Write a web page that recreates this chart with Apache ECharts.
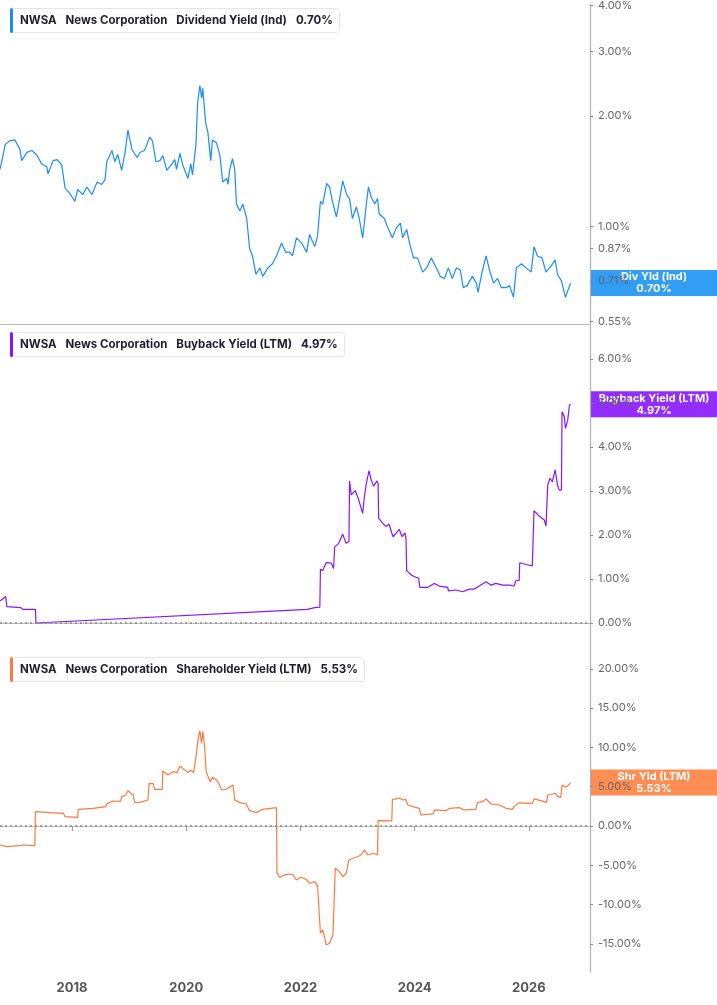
<!DOCTYPE html>
<html lang="en" style="height: 100%">
<head>
    <meta charset="utf-8"/>
    <meta name="viewport" content="width=device-width, initial-scale=1.0"/>
</head>
<body style="height: 100%; margin: 0; overflow: hidden; background: #fff">
<div id="container" style="height: 100%"></div>

<script type="text/javascript" src="https://cdn.jsdelivr.net/npm/echarts@6/dist/echarts.min.js"></script>

<script type="text/javascript">
    // dates as decimal years
    var divYears = [2016.74, 2016.77, 2016.83, 2016.91, 2017.00, 2017.09, 2017.12, 2017.21, 2017.30, 2017.39,
        2017.47, 2017.56, 2017.58, 2017.67, 2017.74, 2017.82, 2017.88, 2017.96, 2018.05, 2018.10,
        2018.19, 2018.26, 2018.35, 2018.44, 2018.52, 2018.58, 2018.61, 2018.70, 2018.75, 2018.80,
        2018.87, 2018.93, 2018.98, 2019.05, 2019.14, 2019.19, 2019.27, 2019.36, 2019.41, 2019.47,
        2019.54, 2019.59, 2019.66, 2019.75, 2019.80, 2019.83, 2019.89, 2019.94, 2020.03, 2020.08,
        2020.11, 2020.17, 2020.20, 2020.24, 2020.27, 2020.29, 2020.34, 2020.38, 2020.43, 2020.46,
        2020.53, 2020.59, 2020.64, 2020.71, 2020.73, 2020.76, 2020.81, 2020.85, 2020.88, 2020.94,
        2020.99, 2021.06, 2021.11, 2021.16, 2021.22, 2021.29, 2021.34, 2021.43, 2021.51, 2021.58,
        2021.67, 2021.74, 2021.81, 2021.86, 2021.93, 2022.02, 2022.11, 2022.16, 2022.25, 2022.30,
        2022.35, 2022.39, 2022.46, 2022.51, 2022.56, 2022.63, 2022.68, 2022.74, 2022.81, 2022.86,
        2022.91, 2022.98, 2023.03, 2023.09, 2023.16, 2023.19, 2023.24, 2023.30, 2023.35, 2023.38,
        2023.47, 2023.52, 2023.61, 2023.68, 2023.75, 2023.79, 2023.86, 2023.91, 2023.98, 2024.05,
        2024.14, 2024.21, 2024.29, 2024.38, 2024.45, 2024.52, 2024.59, 2024.66, 2024.73, 2024.80,
        2024.85, 2024.92, 2025.01, 2025.08, 2025.11, 2025.18, 2025.25, 2025.31, 2025.38, 2025.45,
        2025.52, 2025.60, 2025.66, 2025.73, 2025.78, 2025.87, 2025.95, 2026.04, 2026.09, 2026.15,
        2026.23, 2026.30, 2026.39, 2026.46, 2026.50, 2026.57, 2026.64, 2026.67, 2026.73];
    var divYield = [1.43, 1.50, 1.67, 1.71, 1.72, 1.62, 1.51, 1.59, 1.61, 1.56,
        1.48, 1.45, 1.39, 1.51, 1.52, 1.47, 1.27, 1.23, 1.17, 1.26,
        1.22, 1.28, 1.22, 1.32, 1.30, 1.34, 1.50, 1.61, 1.50, 1.57,
        1.42, 1.59, 1.83, 1.62, 1.54, 1.59, 1.61, 1.75, 1.71, 1.50,
        1.51, 1.56, 1.42, 1.48, 1.52, 1.43, 1.58, 1.47, 1.35, 1.48,
        1.38, 1.67, 2.17, 2.42, 2.24, 2.38, 1.92, 1.80, 1.51, 1.72,
        1.69, 1.56, 1.32, 1.35, 1.30, 1.42, 1.53, 1.43, 1.15, 1.10,
        1.15, 1.05, 0.87, 0.83, 0.74, 0.77, 0.73, 0.77, 0.79, 0.83,
        0.90, 0.85, 0.85, 0.83, 0.93, 0.90, 0.85, 0.95, 0.88, 0.94,
        1.17, 1.15, 1.31, 1.28, 1.17, 1.06, 1.17, 1.33, 1.22, 1.19,
        1.05, 1.13, 1.05, 0.93, 1.17, 1.28, 1.20, 1.15, 1.19, 1.08,
        1.05, 1.00, 0.93, 0.99, 1.02, 0.93, 0.98, 0.90, 0.82, 0.82,
        0.75, 0.77, 0.82, 0.77, 0.73, 0.72, 0.77, 0.72, 0.77, 0.76,
        0.68, 0.69, 0.73, 0.70, 0.66, 0.75, 0.83, 0.76, 0.70, 0.72,
        0.68, 0.68, 0.69, 0.64, 0.77, 0.79, 0.77, 0.75, 0.88, 0.83,
        0.82, 0.75, 0.78, 0.81, 0.74, 0.71, 0.64, 0.66, 0.70];

    var bbYears = [2016.74, 2016.84, 2016.86, 2017.10, 2017.14, 2017.36, 2017.37, 2022.12, 2022.25, 2022.34,
        2022.35, 2022.39, 2022.45, 2022.54, 2022.58, 2022.60, 2022.67, 2022.74, 2022.80, 2022.85,
        2022.86, 2022.89, 2022.96, 2023.02, 2023.09, 2023.12, 2023.15, 2023.20, 2023.24, 2023.28,
        2023.34, 2023.36, 2023.37, 2023.44, 2023.50, 2023.55, 2023.62, 2023.68, 2023.73, 2023.78,
        2023.83, 2023.85, 2023.86, 2023.94, 2024.02, 2024.07, 2024.09, 2024.23, 2024.34, 2024.43,
        2024.58, 2024.59, 2024.72, 2024.84, 2024.96, 2025.04, 2025.13, 2025.25, 2025.34, 2025.42,
        2025.54, 2025.66, 2025.74, 2025.77, 2025.83, 2025.84, 2025.95, 2026.06, 2026.09, 2026.18,
        2026.27, 2026.30, 2026.33, 2026.37, 2026.41, 2026.46, 2026.50, 2026.53, 2026.57, 2026.58,
        2026.62, 2026.64, 2026.68, 2026.71, 2026.73];
    var bbYield = [0.50, 0.60, 0.37, 0.35, 0.31, 0.31, 0.00, 0.31, 0.35, 0.36,
        1.22, 1.19, 1.37, 1.36, 1.24, 1.73, 1.81, 2.02, 1.81, 1.85,
        3.23, 2.91, 3.01, 2.80, 2.49, 2.87, 3.14, 3.46, 3.25, 3.11,
        3.23, 3.17, 2.38, 2.27, 2.19, 2.25, 1.96, 2.05, 2.13, 1.96,
        2.05, 1.90, 1.19, 1.09, 1.04, 1.02, 0.81, 0.81, 0.90, 0.84,
        0.81, 0.73, 0.75, 0.71, 0.77, 0.77, 0.84, 0.94, 0.86, 0.90,
        0.86, 0.86, 0.84, 0.96, 0.97, 1.37, 1.33, 1.30, 2.55, 2.43,
        2.34, 2.20, 3.14, 3.29, 3.21, 3.48, 3.14, 3.02, 3.02, 4.80,
        4.69, 4.42, 4.61, 4.95, 4.97];

    var shYears = [2016.74, 2016.86, 2017.09, 2017.15, 2017.35, 2017.36, 2017.61, 2017.85, 2017.88, 2018.10,
        2018.11, 2018.37, 2018.59, 2018.62, 2018.72, 2018.85, 2018.87, 2018.94, 2018.98, 2019.07,
        2019.10, 2019.19, 2019.33, 2019.35, 2019.42, 2019.45, 2019.58, 2019.59, 2019.68, 2019.77,
        2019.84, 2019.89, 2019.94, 2020.03, 2020.08, 2020.13, 2020.18, 2020.21, 2020.24, 2020.27,
        2020.29, 2020.32, 2020.35, 2020.42, 2020.46, 2020.53, 2020.57, 2020.62, 2020.70, 2020.82,
        2020.85, 2020.94, 2021.05, 2021.11, 2021.23, 2021.34, 2021.58, 2021.59, 2021.64, 2021.72,
        2021.81, 2021.87, 2021.93, 2022.01, 2022.10, 2022.16, 2022.25, 2022.30, 2022.33, 2022.35,
        2022.39, 2022.42, 2022.45, 2022.51, 2022.54, 2022.57, 2022.60, 2022.61, 2022.68, 2022.74,
        2022.80, 2022.85, 2022.92, 2023.00, 2023.06, 2023.12, 2023.18, 2023.27, 2023.35, 2023.36,
        2023.60, 2023.61, 2023.68, 2023.73, 2023.79, 2023.84, 2023.88, 2023.97, 2024.08, 2024.11,
        2024.32, 2024.35, 2024.55, 2024.61, 2024.78, 2024.87, 2025.07, 2025.10, 2025.19, 2025.25,
        2025.34, 2025.48, 2025.60, 2025.71, 2025.74, 2025.83, 2025.95, 2026.06, 2026.09, 2026.21,
        2026.31, 2026.33, 2026.41, 2026.47, 2026.50, 2026.56, 2026.58, 2026.64, 2026.68, 2026.72,
        2026.73];
    var shYield = [-2.42, -2.63, -2.50, -2.42, -2.50, 1.82, 1.70, 1.61, 1.19, 1.10,
        2.12, 2.25, 2.46, 2.88, 3.18, 3.14, 3.73, 3.94, 4.49, 3.94,
        2.97, 3.00, 3.31, 5.43, 5.39, 4.67, 4.67, 7.00, 6.49, 6.91,
        6.79, 7.63, 7.33, 6.79, 7.09, 6.79, 9.25, 11.16, 12.12, 10.52,
        12.00, 10.31, 6.91, 5.64, 6.19, 5.85, 5.43, 4.58, 4.67, 5.22,
        3.31, 2.97, 2.80, 1.95, 1.70, 2.12, 2.33, -6.02, -6.53, -6.23,
        -6.11, -6.23, -6.87, -6.53, -6.79, -7.29, -7.08, -7.63, -7.72, -13.65,
        -13.23, -14.08, -15.14, -14.92, -15.14, -13.87, -13.65, -5.38, -5.81, -6.45,
        -6.02, -4.33, -4.11, -3.91, -3.69, -3.05, -3.69, -3.47, -3.69, 0.67,
        0.65, 3.40, 3.44, 3.60, 3.31, 3.40, 2.67, 2.46, 2.25, 1.40,
        1.53, 2.04, 1.95, 2.25, 2.33, 2.04, 2.12, 2.97, 3.09, 3.44,
        2.80, 2.67, 2.25, 2.12, 2.46, 2.97, 2.88, 2.88, 3.44, 3.22,
        3.01, 3.94, 4.07, 4.16, 3.77, 3.65, 5.22, 4.92, 5.09, 5.43,
        5.53];

    var yearTicks = [2018, 2020, 2022, 2024, 2026];
    var divTicks = [0.55, 0.71, 0.87, 1, 2, 3, 4];
    var bbTicks = [0, 1, 2, 3, 4, 5, 6];
    var shTicks = [-15, -10, -5, 0, 5, 10, 15, 20];

    var panels = [
        {metric: "Dividend Yield (Ind)", tag: "Div Yld (Ind)", line: "#1a8cff", tagColor: "#2196f3", years: divYears, vals: divYield},
        {metric: "Buyback Yield (LTM)", tag: "Buyback Yield (LTM)", line: "#8b14ff", tagColor: "#8a1cff", years: bbYears, vals: bbYield},
        {metric: "Shareholder Yield (LTM)", tag: "Shr Yld (LTM)", line: "#ff7a3a", tagColor: "#ff8447", years: shYears, vals: shYield}
    ];

    var dom = document.getElementById("container");
    var myChart = echarts.init(dom, null, {renderer: "canvas"});

    var pct = function (v) { return v.toFixed(2) + "%"; };
    var font = "Inter, 'Noto Sans', sans-serif";

    var grids = [
        {left: 0, right: 127, top: 0, height: 324},
        {left: 0, right: 127, top: 324, height: 325},
        {left: 0, right: 127, top: 649, height: 323}
    ];

    var xAxes = grids.map(function (g, i) {
        var last = i === 2;
        return {
            type: "value", gridIndex: i, min: 2016.74, max: 2027.07,
            axisLine: {show: true, lineStyle: {color: "#bdbdbd", width: 1}},
            axisTick: {show: last, customValues: yearTicks, length: 5, lineStyle: {color: "#999"}},
            axisLabel: {
                show: last, customValues: yearTicks, margin: 10,
                color: "#555", fontWeight: "bold", fontSize: 13, fontFamily: font,
                formatter: function (v) { return String(v); }
            },
            splitLine: {show: false}
        };
    });

    var yCommon = function (i, ticks) {
        return {
            gridIndex: i, position: "right",
            axisLine: {show: true, lineStyle: {color: "#b0b0b0", width: 1.2}},
            axisTick: {show: true, customValues: ticks, length: 3, lineStyle: {color: "#888"}},
            axisLabel: {customValues: ticks, color: "#666", fontSize: 11, margin: 8, fontFamily: font, formatter: pct},
            splitLine: {show: false}
        };
    };
    var yAxes = [
        Object.assign(yCommon(0, divTicks), {type: "log", logBase: 10, min: 0.5414, max: 4.025}),
        Object.assign(yCommon(1, bbTicks), {type: "value", min: -0.591, max: 6.795}),
        Object.assign(yCommon(2, shTicks), {type: "value", min: -18.58, max: 22.52})
    ];

    var zeroLine = {
        silent: true, symbol: "none", label: {show: false},
        lineStyle: {color: "#8a8a8a", type: [2, 3], width: 1.5},
        data: [{yAxis: 0}]
    };

    var series = panels.map(function (p, i) {
        return {
            type: "line", xAxisIndex: i, yAxisIndex: i,
            data: p.years.map(function (t, k) { return [t, p.vals[k]]; }),
            showSymbol: false, symbol: "none",
            lineStyle: {color: p.line, width: 1.2},
            itemStyle: {color: p.line},
            markLine: i > 0 ? zeroLine : undefined,
            z: 3
        };
    });

    var titles = panels.map(function (p, i) {
        var last = p.vals[p.vals.length - 1];
        return {
            left: 10, top: grids[i].top + 8,
            text: "{bar|}{sp|}{b|NWSA}{g|}{b|News Corporation}{g|}{n|" + p.metric + "}{g|}{b|" + pct(last) + "}",
            backgroundColor: "#fff", borderColor: "#e6e6e6", borderWidth: 1, borderRadius: 3,
            padding: [0, 7, 0, 0],
            textStyle: {
                fontFamily: font, fontSize: 11.5, lineHeight: 25,
                rich: {
                    bar: {width: 3, height: 25, backgroundColor: p.line, borderRadius: 2},
                    sp: {width: 7},
                    g: {width: 9},
                    b: {fontFamily: font, fontWeight: "bold", fontSize: 11.5, color: "#1d1d2b"},
                    n: {fontFamily: font, fontSize: 11.5, color: "#1d1d2b"}
                }
            }
        };
    });

    var option = {
        animation: false,
        backgroundColor: "#fff",
        title: titles,
        grid: grids,
        xAxis: xAxes,
        yAxis: yAxes,
        series: series
    };

    myChart.setOption(option);

    // value tags on the right axis, placed through the axis scale
    var tags = [];
    panels.forEach(function (p, i) {
        var last = p.vals[p.vals.length - 1];
        var y = myChart.convertToPixel({yAxisIndex: i}, last);
        tags.push({
            type: "group", x: 591, y: y - 13, z: 100,
            children: [
                {type: "rect", shape: {x: 0, y: 0, width: 126, height: 26}, style: {fill: p.tagColor, opacity: 0.93}},
                {
                    type: "text", x: 63, y: 13,
                    style: {
                        text: p.tag + "\n" + pct(last), fill: "#fff", align: "center", verticalAlign: "middle",
                        font: "bold 11px Inter, 'Noto Sans', sans-serif", lineHeight: 12
                    }
                }
            ]
        });
    });
    myChart.setOption({graphic: tags});

    window.addEventListener("resize", myChart.resize);
</script>
</body>
</html>
